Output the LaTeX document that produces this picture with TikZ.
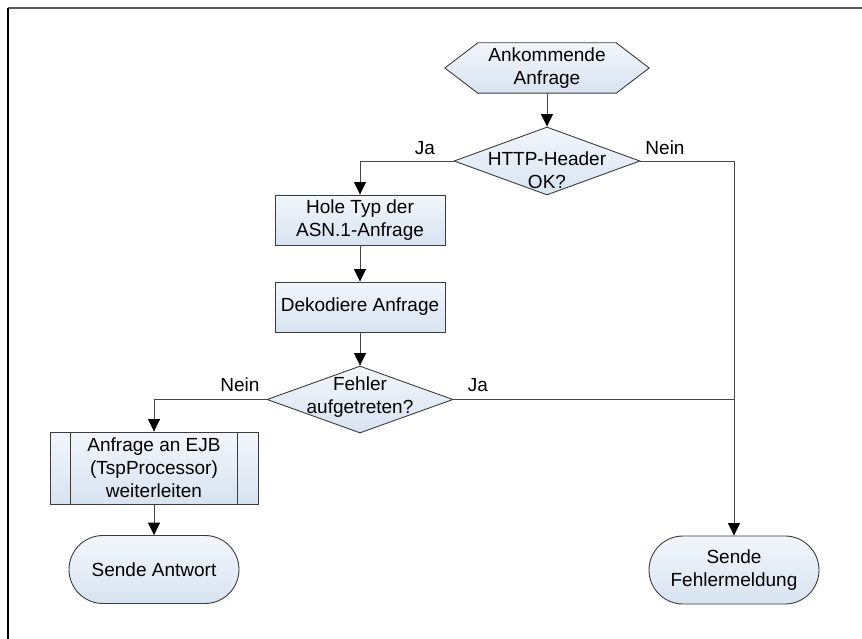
\documentclass[tikz,border=0pt]{standalone}
\usepackage{fontspec}
\setmainfont{Liberation Sans}
\usetikzlibrary{shapes.geometric,shapes.misc,arrows.meta}
\definecolor{fillA}{RGB}{242,246,251}
\definecolor{fillB}{RGB}{216,227,241}
\definecolor{edgegray}{RGB}{60,60,60}
\definecolor{wiregray}{RGB}{70,70,70}
\tikzset{
  shapefill/.style={draw=edgegray, line width=0.9pt, top color=fillA, bottom color=fillB},
  txt/.style={font=\fontsize{19}{23}\selectfont, align=center, text=black, inner sep=0pt},
  procbox/.style={shapefill, rectangle, minimum width=170pt, minimum height=50pt, inner sep=0pt, txt},
  predbox/.style={shapefill, rectangle, minimum width=208pt, minimum height=72pt, inner sep=0pt, txt},
  termbox/.style={shapefill, rounded rectangle, minimum width=170pt, minimum height=68pt, inner sep=0pt, txt},
  decbox/.style={shapefill, diamond, minimum width=186pt, minimum height=67pt, inner sep=0pt},
  hexframe/.style={rectangle, minimum width=204pt, minimum height=50pt, inner sep=0pt},
  lbl/.style={txt},
  wireline/.style={draw=wiregray, line width=0.9pt},
  flowarrow/.style={wireline, -{Triangle[length=12.5pt,width=12pt,color=black]}}
}
\begin{document}
\begin{tikzpicture}[x=1pt,y=1pt]
\useasboundingbox (0,0) rectangle (862,-639);
% frame
\draw[color={rgb,255:red,90;green,90;blue,90}, line width=2pt] (8,-8.5) -- (862,-8.5);
\draw[black, line width=1.5pt] (8,-8) -- (8,-639);

% start hexagon
\node[hexframe] (start) at (547,-68) {};
\path[shapefill] (start.west) -- ([xshift=33pt]start.north west) -- ([xshift=-33pt]start.north east)
  -- (start.east) -- ([xshift=-33pt]start.south east) -- ([xshift=33pt]start.south west) -- cycle;
\node[txt] (starttext) at (start) {Ankommende\\Anfrage};

% decision 1
\node[decbox, minimum height=68pt] (dec1) at (547,-161) {};
\node[txt] (dec1text) at (547,-170) {HTTP-Header\\OK?};

% process boxes
\node[procbox] (hole) at (360,-220) {Hole Typ der\\ASN.1-Anfrage};
\node[procbox] (dekod) at (360,-307) {Dekodiere Anfrage};

% decision 2
\node[decbox] (dec2) at (360,-399.5) {};
\node[txt] (dec2text) at (360,-397) {Fehler\\aufgetreten?};

% predefined process
\node[predbox] (ejb) at (154,-468) {Anfrage an EJB\\(TspProcessor)\\weiterleiten};
\draw[edgegray, line width=0.9pt] ([xshift=21pt]ejb.north west) -- ([xshift=21pt]ejb.south west);
\draw[edgegray, line width=0.9pt] ([xshift=-21pt]ejb.north east) -- ([xshift=-21pt]ejb.south east);

% terminals
\node[termbox] (antwort) at (154,-569.5) {Sende Antwort};
\node[termbox] (fehler) at (734,-570) {Sende\\Fehlermeldung};

% connectors
\draw[flowarrow] (start.south) -- (dec1.north);
\draw[flowarrow] (dec1.west) -| (hole.north);
\draw[flowarrow] (dec1.east) -| (fehler.north);
\draw[flowarrow] (hole.south) -- (dekod.north);
\draw[flowarrow] (dekod.south) -- (dec2.north);
\draw[flowarrow] (dec2.west) -| (ejb.north);
\draw[wireline] (dec2.east) -- (dec2.east -| fehler.north);
\draw[flowarrow] (ejb.south) -- (antwort.north);

% labels
\node[lbl] (ja1) at (425,-148) {Ja};
\node[lbl] (nein1) at (665,-148) {Nein};
\node[lbl] (nein2) at (240,-385) {Nein};
\node[lbl] (ja2) at (478,-385) {Ja};
\end{tikzpicture}
\end{document}
